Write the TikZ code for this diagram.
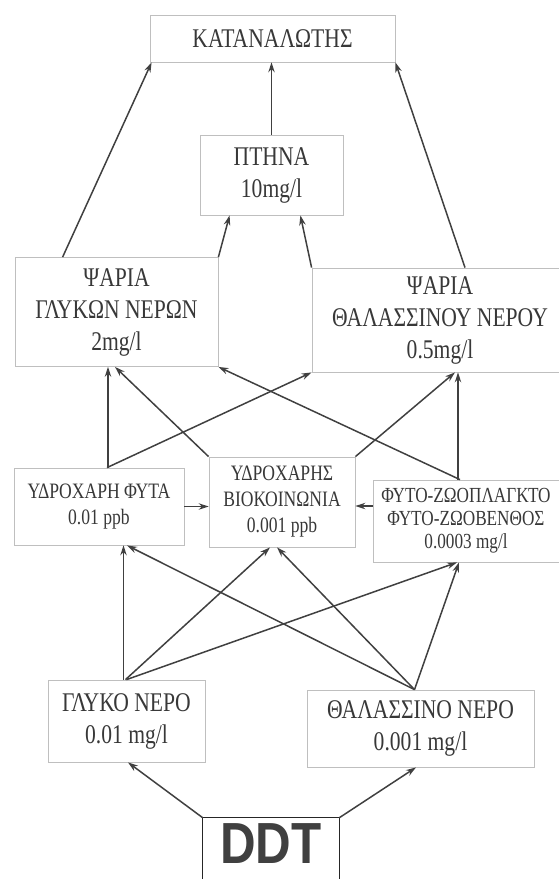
\documentclass[tikz,border=0pt]{standalone}
\usepackage{fontspec}
\setmainfont{Liberation Serif}[FakeStretch=0.8]
\newfontfamily\ddtfont{Liberation Sans}[FakeStretch=0.85]
\usetikzlibrary{arrows.meta}
\begin{document}
\begin{tikzpicture}[x=1pt,y=-1pt,
    box/.style={rectangle,draw=black!25,line width=0.8pt,align=center,text=black!78,inner sep=0pt},
    big/.style={font=\fontsize{27}{32}\selectfont},
    mid/.style={font=\fontsize{22}{26}\selectfont},
    sml/.style={font=\fontsize{21.5}{23}\selectfont},
    food/.style={draw=black!75,line width=1.5pt,-{Stealth[length=10pt,width=6.5pt]}}]
    \useasboundingbox (0,0) rectangle (559,879);
    \node[box,big,minimum width=245pt,minimum height=47pt] (cons) at (272.5,38.5) {ΚΑΤΑΝΑΛΩΤΗΣ};
    \node[box,big,minimum width=143pt,minimum height=80pt] (ptin) at (271.5,175) {ΠΤΗΝΑ\\10mg/l};
    \node[box,big,minimum width=203pt,minimum height=109pt] (fglyk) at (116.5,312) {ΨΑΡΙΑ\\ΓΛΥΚΩΝ ΝΕΡΩΝ\\2mg/l};
    \node[box,big,minimum width=256pt,minimum height=104pt] (fthal) at (440,320) {ΨΑΡΙΑ\\ΘΑΛΑΣΣΙΝΟΥ ΝΕΡΟΥ\\0.5mg/l};
    \node[box,mid,minimum width=170pt,minimum height=77pt] (phyta) at (99,506.5) {ΥΔΡΟΧΑΡΗ ΦΥΤΑ\\0.01 ppb};
    \node[box,mid,minimum width=146pt,minimum height=90pt] (bio) at (282,502) {ΥΔΡΟΧΑΡΗΣ\\ΒΙΟΚΟΙΝΩΝΙΑ\\0.001 ppb};
    \node[box,sml,minimum width=186pt,minimum height=82pt] (phyto) at (466,521) {ΦΥΤΟ-ΖΩΟΠΛΑΓΚΤΟ\\ΦΥΤΟ-ΖΩΟΒΕΝΘΟΣ\\0.0003 mg/l};
    \node[box,big,minimum width=157pt,minimum height=82pt] (glyk) at (126.5,721) {ΓΛΥΚΟ ΝΕΡΟ\\0.01 mg/l};
    \node[box,big,minimum width=227pt,minimum height=77pt] (thal) at (420.5,728.5) {ΘΑΛΑΣΣΙΝΟ ΝΕΡΟ\\0.001 mg/l};
    \node[rectangle,text=black!75,inner sep=0pt,text height=42pt,text depth=0pt,minimum width=136pt,minimum height=48pt,
        font=\ddtfont\bfseries\fontsize{58}{62}\selectfont] (ddt) at (271,842) {DDT};
    \draw[black!85,line width=1.2pt] ([yshift=-16pt]ddt.south west) -- (ddt.north west) -- (ddt.north east) -- ([yshift=-16pt]ddt.south east);
    \coordinate (pw) at ([yshift=15pt]phyto.west);
    \coordinate (gn) at ([xshift=-3pt]glyk.north);
    \draw[food] ([xshift=48pt]fglyk.north west) -- ([xshift=2pt]cons.south west);
    \draw[food] (ptin.north) -- (ptin.north |- cons.south);
    \draw[food] ([xshift=25pt]fthal.north) -- (cons.south east);
    \draw[food] (fglyk.north east) -- ([xshift=30pt]ptin.south west);
    \draw[food] (fthal.north west) -- ([xshift=-43pt]ptin.south east);
    \draw[food] ([xshift=9pt]phyta.north) -- ([xshift=-8.5pt]fglyk.south);
    \draw[food] (bio.north west) -- ([xshift=-1.5pt]fglyk.south);
    \draw[food] ([xshift=8pt]phyta.north) -- (fthal.south west);
    \draw[food] ([xshift=-6pt]phyto.north) -- (fglyk.south east);
    \draw[food] (bio.north east) -- ([xshift=15pt]fthal.south);
    \draw[food] ([xshift=-8pt]phyto.north) -- ([xshift=18pt]fthal.south);
    \draw[food] (phyta.east) -- (phyta.east -| bio.west);
    \draw[food] (pw) -- (pw -| bio.east);
    \draw[food] (gn) -- (gn |- phyta.south);
    \draw[food] ([xshift=-1pt]glyk.north) -- ([xshift=-12pt]bio.south);
    \draw[food] (glyk.north) -- ([xshift=-9pt]phyto.south);
    \draw[food] ([xshift=-6pt]thal.north) -- ([xshift=28pt]phyta.south);
    \draw[food] ([xshift=-6pt]thal.north) -- ([xshift=-5pt]bio.south);
    \draw[food] ([xshift=-6pt]thal.north) -- ([xshift=-7pt]phyto.south);
    \draw[food] (ddt.north west) -- ([xshift=1.5pt]glyk.south);
    \draw[food] (ddt.north east) -- ([xshift=-4.5pt]thal.south);
\end{tikzpicture}
\end{document}
